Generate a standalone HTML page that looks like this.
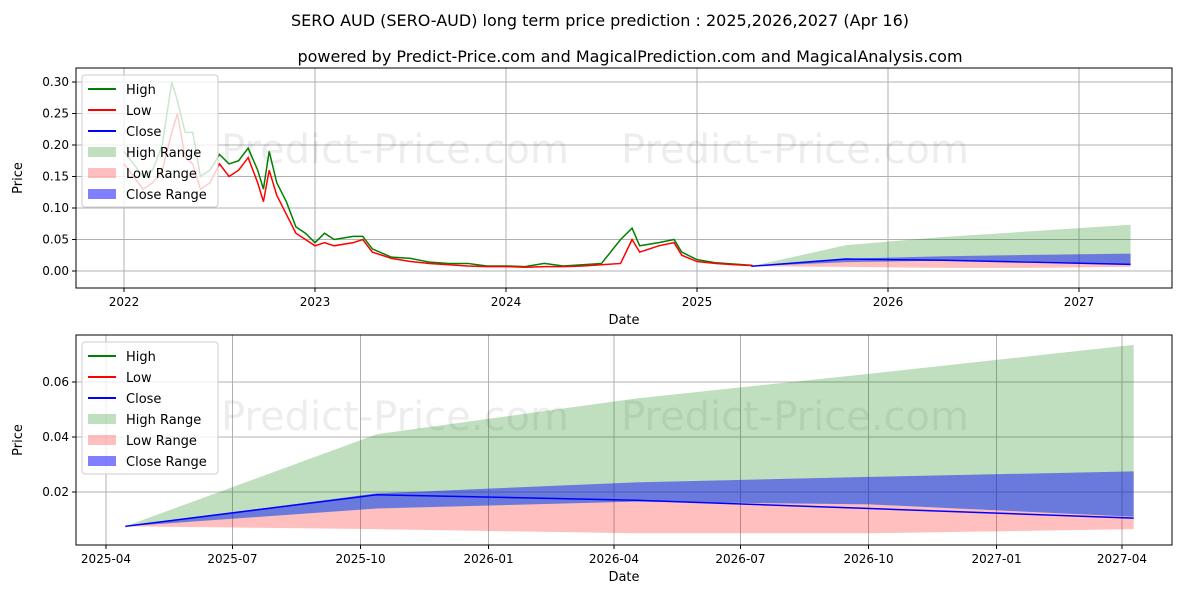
<!DOCTYPE html>
<html><head><meta charset="utf-8"><style>
body{margin:0;background:#fff;font-family:"Liberation Sans","DejaVu Sans",sans-serif}
</style></head><body>
<svg id="c" width="1200" height="600" xmlns="http://www.w3.org/2000/svg" font-family="DejaVu Sans, Liberation Sans, sans-serif">
<text x="600" y="26" text-anchor="middle" font-size="16">SERO AUD (SERO-AUD) long term price prediction : 2025,2026,2027 (Apr 16)</text>
<text x="630" y="62" text-anchor="middle" font-size="16">powered by Predict-Price.com and MagicalPrediction.com and MagicalAnalysis.com</text>
<g id="gtop"></g><g id="gbot"></g>
</svg>
<script>
// historical data
const histDates=[2022.0,2022.05,2022.1,2022.15,2022.2,2022.25,2022.28,2022.32,2022.36,2022.4,2022.45,2022.5,2022.55,2022.6,2022.65,2022.7,2022.73,2022.76,2022.8,2022.85,2022.9,2022.95,2023.0,2023.05,2023.1,2023.2,2023.25,2023.3,2023.4,2023.5,2023.6,2023.7,2023.8,2023.9,2024.0,2024.1,2024.2,2024.3,2024.4,2024.5,2024.6,2024.66,2024.7,2024.8,2024.88,2024.92,2025.0,2025.1,2025.2,2025.29];
const histLow=[0.17,0.15,0.13,0.14,0.16,0.22,0.25,0.18,0.17,0.13,0.14,0.17,0.15,0.16,0.18,0.14,0.11,0.16,0.12,0.09,0.06,0.05,0.04,0.045,0.04,0.045,0.05,0.03,0.02,0.015,0.012,0.01,0.008,0.007,0.007,0.006,0.007,0.007,0.008,0.01,0.012,0.05,0.03,0.04,0.045,0.025,0.015,0.012,0.01,0.0085];
const histHigh=[0.19,0.17,0.15,0.16,0.2,0.30,0.27,0.22,0.22,0.15,0.16,0.185,0.17,0.175,0.195,0.16,0.13,0.19,0.14,0.11,0.07,0.06,0.045,0.06,0.05,0.055,0.055,0.035,0.022,0.02,0.014,0.012,0.012,0.008,0.008,0.007,0.012,0.008,0.01,0.012,0.05,0.068,0.04,0.045,0.05,0.03,0.018,0.013,0.011,0.009];
// forecast data
const fcDates=[2025.285,2025.78,2026.29,2026.75,2027.27];
const fcHighUp=[0.0075,0.041,0.054,0.063,0.0735];
const fcHighLo=[0.0075,0.014,0.0165,0.0155,0.011];
const fcLowUp=[0.0075,0.014,0.0165,0.0155,0.011];
const fcLowLo=[0.0075,0.0065,0.005,0.005,0.0065];
const fcCloseUp=[0.0075,0.0195,0.0235,0.0255,0.0275];
const fcCloseLo=[0.0075,0.014,0.0165,0.0155,0.011];
const fcClose=[0.0075,0.019,0.017,0.014,0.0105];
const topYTicks=[0,0.05,0.1,0.15,0.2,0.25,0.3];
const topXTicks=[2022,2023,2024,2025,2026,2027];
const botYTicks=[0.02,0.04,0.06];
const botXLabels=["2025-04","2025-07","2025-10","2026-01","2026-04","2026-07","2026-10","2027-01","2027-04"];
const botXVals=[2025.247,2025.496,2025.748,2026.0,2026.247,2026.496,2026.748,2027.0,2027.247];

const NS="http://www.w3.org/2000/svg";
function mk(p,t,a){const e=document.createElementNS(NS,t);for(const k in a)e.setAttribute(k,a[k]);p.appendChild(e);return e;}
function panel(g,L,R,T,B,xs,ys,yTicks,yFmt,xTicks,xLab,hist){
  mk(g,'rect',{x:L,y:T,width:R-L,height:B-T,fill:'#fff'});
  yTicks.forEach(v=>{const y=ys(v);
    const l=mk(g,'line',{x1:L,x2:R,y1:y,y2:y,stroke:'#b0b0b0','stroke-width':1});
    
    mk(g,'line',{x1:L-4,x2:L,y1:y,y2:y,stroke:'#000'});
    const t=mk(g,'text',{x:L-7,y:y+4,'text-anchor':'end','font-size':12});t.textContent=yFmt(v);
    });
  xTicks.forEach((v,i)=>{const x=xs(v);
    const l=mk(g,'line',{x1:x,x2:x,y1:T,y2:B,stroke:'#b0b0b0','stroke-width':1});
    
    mk(g,'line',{x1:x,x2:x,y1:B,y2:B+4,stroke:'#000'});
    const t=mk(g,'text',{x:x,y:B+18,'text-anchor':'middle','font-size':12});t.textContent=xLab[i];
    });
  [[L+145,T+95],[L+545,T+95],[L+145,B+20],[L+545,B+20]].forEach(p=>{if(p[1]>B)return;
    const t=mk(g,'text',{x:p[0],y:p[1],'font-size':40,fill:'#000','fill-opacity':0.07});t.textContent='Predict-Price.com';
    });
  const band=(up,lo,col,op,n)=>{let d='M'+fcDates.map((x,i)=>xs(x)+','+ys(up[i])).join('L');
    d+='L'+fcDates.map((x,i)=>[xs(x),ys(lo[i])]).reverse().map(p=>p.join(',')).join('L')+'Z';
    const p=mk(g,'path',{d:d,fill:col,'fill-opacity':op});};
  band(fcHighUp,fcHighLo,'#008000',0.25,'high-range-band');
  band(fcLowUp,fcLowLo,'#ff0000',0.25,'low-range-band');
  band(fcCloseUp,fcCloseLo,'#0000ff',0.45,'close-range-band');
  if(hist){
    const hp=mk(g,'polyline',{points:histDates.map((x,i)=>xs(x)+','+ys(histHigh[i])).join(' '),fill:'none',stroke:'#008000','stroke-width':1.5});
    
    const lp=mk(g,'polyline',{points:histDates.map((x,i)=>xs(x)+','+ys(histLow[i])).join(' '),fill:'none',stroke:'#ff0000','stroke-width':1.5});
    
  }
  const cp=mk(g,'polyline',{points:fcDates.map((x,i)=>xs(x)+','+ys(fcClose[i])).join(' '),fill:'none',stroke:'#0000ff','stroke-width':1.5});
  
  mk(g,'rect',{x:L,y:T,width:R-L,height:B-T,fill:'none',stroke:'#000'});
  const xl=mk(g,'text',{x:(L+R)/2,y:B+36,'text-anchor':'middle','font-size':13});xl.textContent='Date';
  
  const yl=mk(g,'text',{x:0,y:0,'text-anchor':'middle','font-size':13,transform:`translate(${L-54},${(T+B)/2}) rotate(-90)`});yl.textContent='Price';
  
  const lg=mk(g,'g',{});
  mk(lg,'rect',{x:L+6,y:T+7,width:136,height:132,fill:'#fff','fill-opacity':0.8,stroke:'#ccc',rx:3});
  const items=[['High','line','#008000',1],['Low','line','#ff0000',1],['Close','line','#0000ff',1],['High Range','box','#008000',0.25],['Low Range','box','#ff0000',0.25],['Close Range','box','#0000ff',0.5]];
  items.forEach((it,i)=>{const y=T+21+i*21;
    if(it[1]=='line')mk(lg,'line',{x1:L+12,x2:L+40,y1:y,y2:y,stroke:it[2],'stroke-width':2});
    else mk(lg,'rect',{x:L+12,y:y-5,width:28,height:10,fill:it[2],'fill-opacity':it[3]});
    const t=mk(lg,'text',{x:L+50,y:y+5,'font-size':13});t.textContent=it[0];
    });
}
const gTop=document.getElementById('gtop');


const gBot=document.getElementById('gbot');


panel(gTop,76,1172,68,288,v=>124+(v-2022)*191,v=>271-v*630,topYTicks,v=>v.toFixed(2),topXTicks,topXTicks.map(String),true);
panel(gBot,76,1172,335,545,v=>106+(v-2025.247)*508,v=>547-v*2750,botYTicks,v=>v.toFixed(2),botXVals,botXLabels,false);
</script>
</body></html>
